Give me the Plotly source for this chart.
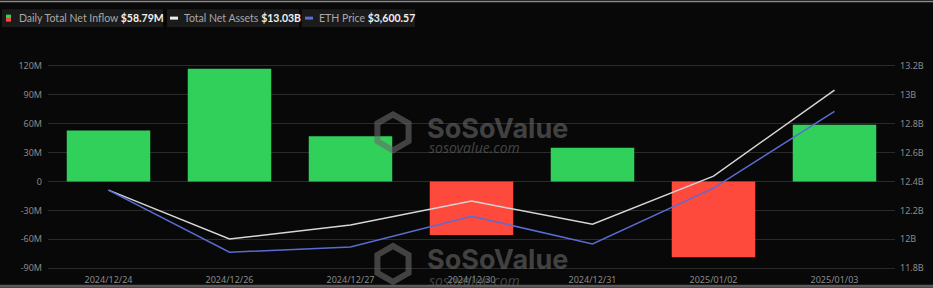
import plotly.graph_objects as go
import math

dates = ["2024/12/24", "2024/12/26", "2024/12/27", "2024/12/30", "2024/12/31", "2025/01/02", "2025/01/03"]
net_inflow_m = [52.8, 116.9, 46.9, -55.5, 34.9, -78.6, 58.79]
total_net_assets_b = [12.34, 12.002, 12.099, 12.264, 12.105, 12.437, 13.032]
eth_price = [3449.3, 3330.0, 3340.0, 3399.0, 3346.0, 3453.0, 3600.57]

left_ticks = [-90, -60, -30, 0, 30, 60, 90, 120]
left_labels = ["-90M", "-60M", "-30M", "0", "30M", "60M", "90M", "120M"]
right_ticks = [11.8, 12.0, 12.2, 12.4, 12.6, 12.8, 13.0, 13.2]
right_labels = ["11.8B", "12B", "12.2B", "12.4B", "12.6B", "12.8B", "13B", "13.2B"]

W, H = 933, 288
L, R, T, B = 48, 895, 60.5, 273.1

def px(x):
    return (x - L) / (R - L)

def py(y):
    return (B - y) / (B - T)

GREEN = "#31d05b"
RED = "#fd4a3c"
WHITE = "#d6d6d6"
BLUE = "#5a6cd4"
BG = "#080808"

bar_colors = [GREEN if v >= 0 else RED for v in net_inflow_m]

fig = go.Figure()
fig.add_trace(go.Bar(x=dates, y=net_inflow_m, marker=dict(color=bar_colors, line=dict(width=0)),
                     yaxis="y", showlegend=False))
fig.add_trace(go.Scatter(x=dates, y=total_net_assets_b, mode="lines", line=dict(color=WHITE, width=1.5),
                         yaxis="y2", showlegend=False))
fig.add_trace(go.Scatter(x=dates, y=eth_price, mode="lines", line=dict(color=BLUE, width=1.5),
                         yaxis="y3", showlegend=False))

tickfont = dict(family="Noto Sans, Open Sans, sans-serif", size=9, color="#8a8a8a")

fig.update_layout(
    width=W, height=H,
    margin=dict(l=L, r=W - R, t=T, b=H - B, pad=0, autoexpand=False),
    paper_bgcolor=BG, plot_bgcolor=BG,
    bargap=0.31,
    xaxis=dict(type="category", range=[-0.5, 6.5], showgrid=False, zeroline=False, showline=False,
               ticks="", tickfont=tickfont, fixedrange=True, automargin=False),
    yaxis=dict(range=[-95, 125], tickvals=left_ticks, ticktext=left_labels, showgrid=True,
               gridcolor="#2a2a2a", gridwidth=1, zeroline=False, ticks="", tickfont=tickfont,
               ticklabelstandoff=5, automargin=False),
    yaxis2=dict(range=[11.767, 13.233], tickvals=right_ticks, ticktext=right_labels, overlaying="y",
                side="right", showgrid=False, zeroline=False, ticks="", tickfont=tickfont,
                ticklabelstandoff=4, automargin=False),
    yaxis3=dict(range=[3290.1, 3697.3], overlaying="y", visible=False, automargin=False),
    bargroupgap=0,
)

shapes = []
annotations = []

# top / bottom frame lines
shapes.append(dict(type="rect", xref="paper", yref="paper", x0=px(0), x1=px(W), y0=py(1.5), y1=py(0),
                   fillcolor="#8a8a8a", line=dict(width=0), layer="above"))
shapes.append(dict(type="rect", xref="paper", yref="paper", x0=px(0), x1=px(W), y0=py(288), y1=py(285),
                   fillcolor="#5a5a5a", line=dict(width=0), layer="above"))

# legend boxes
legend_items = [
    (2, 163, "Daily Total Net Inflow", "$58.79M"),
    (167, 299, "Total Net Assets", "$13.03B"),
    (302, 415, "ETH Price", "$3,600.57"),
]
for x0, x1, label, val in legend_items:
    shapes.append(dict(type="rect", xref="paper", yref="paper", x0=px(x0), x1=px(x1), y0=py(26.5), y1=py(8.5),
                       fillcolor="#1b1b1b", line=dict(width=0), layer="below"))
    annotations.append(dict(xref="paper", yref="paper", x=px(x0 + 15), y=py(17.5), xanchor="left", yanchor="middle",
                            showarrow=False,
                            text=f"<span style='color:#a8a8a8'>{label}</span> <b>{val}</b>",
                            font=dict(family="Lato, Noto Sans, sans-serif", size=10.5, color="#f0f0f0")))
# icons
shapes.append(dict(type="rect", xref="paper", yref="paper", x0=px(6), x1=px(11), y0=py(17.5), y1=py(14),
                   fillcolor=GREEN, line=dict(width=0), layer="above"))
shapes.append(dict(type="rect", xref="paper", yref="paper", x0=px(6), x1=px(11), y0=py(21), y1=py(17.5),
                   fillcolor=RED, line=dict(width=0), layer="above"))
shapes.append(dict(type="rect", xref="paper", yref="paper", x0=px(170), x1=px(178), y0=py(19), y1=py(16),
                   fillcolor="#eeeeee", line=dict(width=0), layer="above"))
shapes.append(dict(type="rect", xref="paper", yref="paper", x0=px(305), x1=px(313), y0=py(19), y1=py(16),
                   fillcolor=BLUE, line=dict(width=0), layer="above"))

# watermarks
WM = "rgba(105,105,105,0.6)"
for icy, ty, cy2 in ((132, 128, 147), (264, 260, 281)):
    cx = 393
    r = 18
    pts = [(cx + r * math.cos(math.radians(a)), icy + r * math.sin(math.radians(a))) for a in (30, 90, 150, 210, 270, 330)]
    path = "M " + " L ".join(f"{px(x):.5f},{py(y):.5f}" for x, y in pts) + " Z"
    shapes.append(dict(type="path", xref="paper", yref="paper", path=path,
                       line=dict(color=WM, width=6), layer="above"))
    annotations.append(dict(xref="paper", yref="paper", x=px(425), y=py(ty), xanchor="left", yanchor="middle",
                            showarrow=False, text="<b>SoSoValue</b>",
                            font=dict(family="Inter, Noto Sans, sans-serif", size=27, color=WM)))
    annotations.append(dict(xref="paper", yref="paper", x=px(427), y=py(cy2), xanchor="left", yanchor="middle",
                            showarrow=False, text="<i>sosovalue.com</i>",
                            font=dict(family="Noto Sans, sans-serif", size=14, color=WM)))

fig.update_layout(shapes=shapes, annotations=annotations)
fig.write_html("out.html")
